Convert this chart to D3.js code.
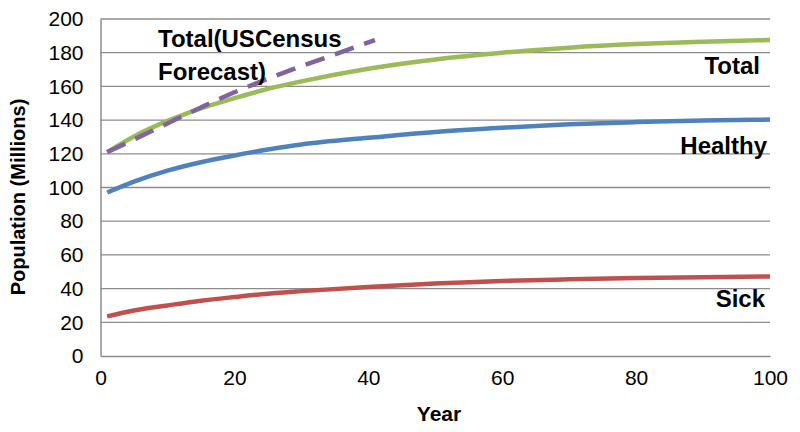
<!DOCTYPE html>
<html>
<head>
<meta charset="utf-8">
<script src="https://cdn.jsdelivr.net/npm/d3@7"></script>
<style>
  html, body { margin: 0; padding: 0; background: #fff; }
  svg { display: block; font-family: "Liberation Sans", Arial, Helvetica, sans-serif; }
</style>
</head>
<body>
<svg id="chart" width="800" height="432"></svg>
<script>
// ---- data ----
const years        = [1, 5, 10, 15, 20, 25, 30, 40, 50, 60, 70, 80, 90, 100];
const totalValues  = [121, 130.3, 139.5, 147, 153, 158.5, 163, 170.5, 176, 180, 183, 185.1, 186.5, 187.5];
const healthyValues= [97, 103.5, 110, 115, 119, 122.5, 125.5, 129.5, 133, 135.5, 137.5, 138.8, 139.7, 140.3];
const sickValues   = [23.5, 27, 30, 32.8, 35, 37, 38.5, 41, 43, 44.5, 45.5, 46.3, 46.8, 47.2];
const censusYears  = [1, 5, 10, 15, 20, 25, 30, 35, 41];
const censusValues = [121, 128.5, 138, 147.5, 156.5, 164.5, 172, 179, 187.5];
const xTicks = [0, 20, 40, 60, 80, 100];
const yTicks = [0, 20, 40, 60, 80, 100, 120, 140, 160, 180, 200];

const svg = d3.select("#chart");
const x = d3.scaleLinear().domain([0, 100]).range([100.5, 770]);
const y = d3.scaleLinear().domain([0, 200]).range([356, 19]);

// gridlines
svg.append("g").selectAll("line").data(yTicks.filter(d => d > 0)).join("line")
  .attr("x1", x(0)).attr("x2", x(100))
  .attr("y1", d => y(d)).attr("y2", d => y(d))
  .attr("stroke", "#8c8c8c").attr("stroke-width", 1.3);

// axes
const yAxis = svg.append("g").attr("transform", `translate(${x(0)},0)`)
  .call(d3.axisLeft(y).tickValues(yTicks).tickSize(0).tickPadding(17));
const xAxis = svg.append("g").attr("transform", `translate(0,${y(0)})`)
  .call(d3.axisBottom(x).tickValues(xTicks).tickSize(0).tickPadding(14));
[yAxis, xAxis].forEach(a => {
  a.select(".domain").attr("stroke", "#8c8c8c").attr("stroke-width", 1.5);
  a.selectAll("text").attr("font-size", 21).attr("fill", "#000")
    .attr("font-family", "'Liberation Sans', Arial, sans-serif");
});

// lines
const line = d3.line().curve(d3.curveMonotoneX);
const series = [
  {xs: years, ys: totalValues, color: "#9BBB59", dash: null},
  {xs: years, ys: healthyValues, color: "#4F81BD", dash: null},
  {xs: years, ys: sickValues, color: "#C0504D", dash: null},
  {xs: censusYears, ys: censusValues, color: "#8064A2", dash: "20,11"}
];
series.forEach(s => {
  svg.append("path")
    .attr("d", line(s.xs.map((v, i) => [x(v), y(s.ys[i])])))
    .attr("fill", "none").attr("stroke", s.color)
    .attr("stroke-width", 4.5)
    .attr("stroke-dasharray", s.dash);
});

// series labels
const lab = (t, xx, yy, anchor) => svg.append("text").text(t)
  .attr("x", xx).attr("y", yy).attr("text-anchor", anchor || "start")
  .attr("font-size", 24).attr("font-weight", "bold").attr("fill", "#000");
lab("Total(USCensus", 158, 47);
lab("Forecast)", 158, 80);
lab("Total", 760, 74, "end");
lab("Healthy", 767, 154, "end");
lab("Sick", 765, 307, "end");

// axis titles
svg.append("text").text("Year").attr("x", 439).attr("y", 421)
  .attr("text-anchor", "middle").attr("font-size", 21).attr("font-weight", "bold");
svg.append("text").text("Population (Millions)")
  .attr("transform", "translate(25,197) rotate(-90)")
  .attr("text-anchor", "middle").attr("font-size", 20).attr("font-weight", "bold");
</script>
</body>
</html>
